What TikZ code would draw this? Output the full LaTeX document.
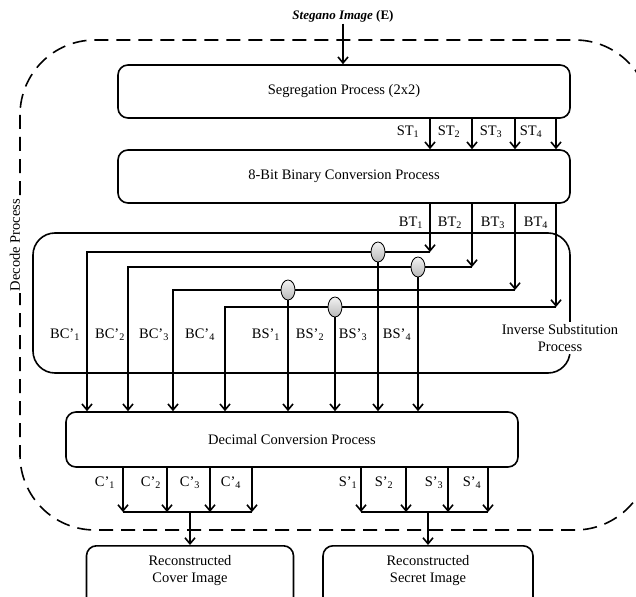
\documentclass[tikz,border=0pt]{standalone}
\usepackage{fontspec}
\setmainfont{Liberation Serif}
\usetikzlibrary{arrows.meta,shapes.geometric}
\begin{document}
\begin{tikzpicture}[x=1pt,y=-1pt,
  line width=1.6pt,
  txt/.style={font=\fontsize{14.5}{17}\selectfont},
  box/.style={draw, rounded corners=10pt, txt, inner sep=0pt},
  arr/.style={-{Straight Barb[length=6pt,width=10pt]}},
  lbl/.style={txt, inner sep=1pt},
  junc/.style={ellipse, draw, line width=0.8pt, minimum width=14pt, minimum height=20pt, inner sep=0pt, top color=gray!10, bottom color=gray!55}]
\useasboundingbox (0,0) rectangle (636,596);
\begin{scope}
\clip (0,0) rectangle (636,596);
% outer dashed region
\draw[dash pattern=on 14pt off 8pt, rounded corners=75pt] (20,40) rectangle (650,530);
\node[txt, fill=white, rotate=90, inner sep=2pt] (dp) at (15,245) {Decode Process};
% boxes
\node[box, minimum width=452pt, minimum height=53pt] (seg) at (344,91.5) {Segregation Process (2x2)};
\node[box, minimum width=452pt, minimum height=53pt] (bin) at (344,176.5) {8-Bit Binary Conversion Process};
\node[draw, rounded corners=22pt, minimum width=537pt, minimum height=140pt] (inv) at (301.5,303) {};
\node[box, minimum width=452pt, minimum height=55pt] (dec) at (292,439.5) {Decimal Conversion Process};
\node[draw, rounded corners=10pt, minimum width=207pt, minimum height=75pt, anchor=north] (cover) at (190,545) {};
\node[draw, rounded corners=10pt, minimum width=210pt, minimum height=75pt, anchor=north] (secret) at (428,545) {};
\node[lbl, align=center] (covt) at (190,571) {Reconstructed\\Cover Image};
\node[lbl, align=center] (sect) at (428,571) {Reconstructed\\Secret Image};
\node[lbl, align=center, fill=white, inner sep=2pt] (invt) at (560,338) {Inverse Substitution\\Process};
% input
\node[font=\fontsize{13}{15}\selectfont\bfseries\itshape, inner sep=1pt] (steg) at (343,16) {Stegano Image \upshape(E)};
\draw[arr] (steg.south) -- (seg.north -| steg.south);
% ST arrows
\foreach \x [count=\i] in {430,472,515,556} {
  \coordinate (s\i) at (\x,0);
  \draw[arr] (seg.south -| s\i) -- (bin.north -| s\i);
}
\node[lbl] at (408,132) {ST\textsubscript{1}};
\node[lbl] at (449,132) {ST\textsubscript{2}};
\node[lbl] at (491,132) {ST\textsubscript{3}};
\node[lbl] at (531,132) {ST\textsubscript{4}};
\node[lbl] at (411,223) {BT\textsubscript{1}};
\node[lbl] at (450,223) {BT\textsubscript{2}};
\node[lbl] at (493,223) {BT\textsubscript{3}};
\node[lbl] at (536,223) {BT\textsubscript{4}};
% BT routing
\coordinate (t1) at (430,252); \coordinate (l1) at (87,252);
\coordinate (t2) at (472,267); \coordinate (l2) at (128,267);
\coordinate (t3) at (515,290); \coordinate (l3) at (173,290);
\coordinate (t4) at (556,307); \coordinate (l4) at (225,307);
\foreach \i in {1,2,3,4} {
  \draw[arr] (bin.south -| t\i) -- (t\i);
  \draw[arr] (t\i) -- (l\i) -- (dec.north -| l\i);
}
% junctions
\coordinate (p1) at (288,290);
\coordinate (p2) at (335,307);
\coordinate (p3) at (378,252);
\coordinate (p4) at (418,267);
\foreach \i in {1,2,3,4} {
  \draw[arr] (p\i) -- (dec.north -| p\i);
}
\foreach \i in {1,2,3,4} {
  \node[junc] (j\i) at (p\i) {};
}
% BC / BS labels
\node[lbl] at (65,335) {BC'\textsubscript{1}};
\node[lbl] at (110,335) {BC'\textsubscript{2}};
\node[lbl] at (154,335) {BC'\textsubscript{3}};
\node[lbl] at (200,335) {BC'\textsubscript{4}};
\node[lbl] at (266,335) {BS'\textsubscript{1}};
\node[lbl] at (310,335) {BS'\textsubscript{2}};
\node[lbl] at (353,335) {BS'\textsubscript{3}};
\node[lbl] at (397,335) {BS'\textsubscript{4}};
% outputs C'
\foreach \x [count=\i] in {123,167,210,252} {
  \coordinate (ca\i) at (\x,512);
  \draw[arr] (dec.south -| ca\i) -- (ca\i);
}
\draw (ca1) -- (ca4);
\coordinate (cm) at (190,512);
\draw[arr] (cm) -- (cover.north);
\foreach \x [count=\i] in {361,406,448,488} {
  \coordinate (sa\i) at (\x,512);
  \draw[arr] (dec.south -| sa\i) -- (sa\i);
}
\draw (sa1) -- (sa4);
\coordinate (sm) at (428,512);
\draw[arr] (sm) -- (secret.north);
\node[lbl] at (105,483) {C'\textsubscript{1}};
\node[lbl] at (151,483) {C'\textsubscript{2}};
\node[lbl] at (190,483) {C'\textsubscript{3}};
\node[lbl] at (231,483) {C'\textsubscript{4}};
\node[lbl] at (348,483) {S'\textsubscript{1}};
\node[lbl] at (384,483) {S'\textsubscript{2}};
\node[lbl] at (434,483) {S'\textsubscript{3}};
\node[lbl] at (472,483) {S'\textsubscript{4}};
\end{scope}
\end{tikzpicture}
\end{document}
